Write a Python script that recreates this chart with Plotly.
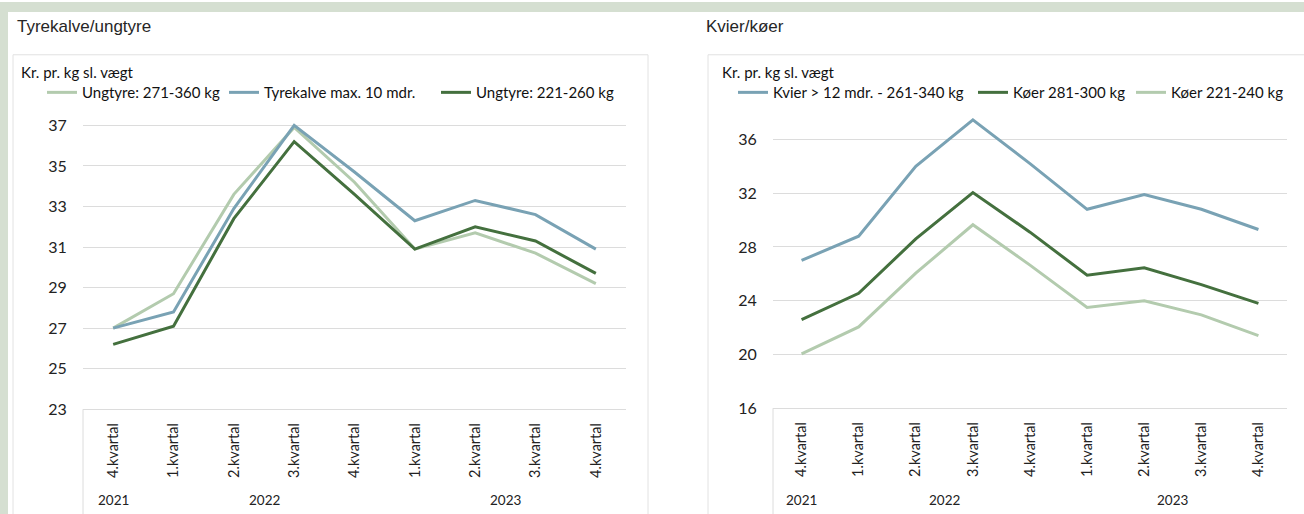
import plotly.graph_objects as go

# ---------------- data ----------------
quarters = ["4.kvartal", "1.kvartal", "2.kvartal", "3.kvartal", "4.kvartal",
            "1.kvartal", "2.kvartal", "3.kvartal", "4.kvartal"]
years = ["2021", "2022", "2022", "2022", "2022", "2023", "2023", "2023", "2023"]

# Tyrekalve/ungtyre
ungtyre_271_360 = [27.0, 28.7, 33.6, 36.9, 34.2, 30.9, 31.7, 30.7, 29.2]
tyrekalve_max10 = [27.0, 27.8, 32.9, 37.0, 34.7, 32.3, 33.3, 32.6, 30.9]
ungtyre_221_260 = [26.2, 27.1, 32.4, 36.2, 33.6, 30.9, 32.0, 31.3, 29.7]

# Kvier/køer
kvier_261_340 = [27.0, 28.8, 34.0, 37.45, 34.2, 30.8, 31.9, 30.8, 29.3]
koer_281_300 = [22.6, 24.55, 28.6, 32.05, 29.1, 25.9, 26.45, 25.2, 23.8]
koer_221_240 = [20.05, 22.05, 26.05, 29.65, 26.65, 23.5, 24.0, 22.95, 21.4]

left_ticks = [23, 25, 27, 29, 31, 33, 35, 37]
right_ticks = [16, 20, 24, 28, 32, 36]

# ---------------- style ----------------
W, H = 1304, 514
K = 1.0175          # vertical correction for the capture
def px(x):
    return x / W
def py(y):
    return 1 - y * K / H

C_LIGHT = "#b3cbae"
C_BLUE = "#79a2b4"
C_DARK = "#44703e"
BG_GREEN = "#d5dfd1"
GRID = "#dcdcdc"
BOX = "#e2e2e2"
FONT = "Lato, Open Sans, sans-serif"
TFONT = "Liberation Sans Narrow, Liberation Sans, Arial, sans-serif"

idx = list(range(len(quarters)))

fig = go.Figure()

left_series = [
    ("Ungtyre: 271-360 kg", ungtyre_271_360, C_LIGHT),
    ("Tyrekalve max. 10 mdr.", tyrekalve_max10, C_BLUE),
    ("Ungtyre: 221-260 kg", ungtyre_221_260, C_DARK),
]
right_series = [
    ("Kvier > 12 mdr. - 261-340 kg", kvier_261_340, C_BLUE),
    ("Køer 281-300 kg", koer_281_300, C_DARK),
    ("Køer 221-240 kg", koer_221_240, C_LIGHT),
]
# left edge (px) of each legend entry
left_leg_x = [42, 224, 436]
right_leg_x = [733, 973, 1131]

legends = {}
n = 1
for (name, vals, col), lx in zip(left_series, left_leg_x):
    key = "legend" if n == 1 else f"legend{n}"
    legends[key] = lx
    fig.add_trace(go.Scatter(x=idx, y=vals, mode="lines", name=name,
                             line=dict(color=col, width=3),
                             xaxis="x", yaxis="y", legend=key))
    n += 1
for (name, vals, col), lx in zip(right_series, right_leg_x):
    key = f"legend{n}"
    legends[key] = lx
    fig.add_trace(go.Scatter(x=idx, y=vals, mode="lines", name=name,
                             line=dict(color=col, width=3),
                             xaxis="x2", yaxis="y2", legend=key))
    n += 1

# axis geometry (pixels)
L_X0, L_X1 = 83, 626
R_X0, R_X1 = 773, 1287
L_YB = 409   # y pixel of value 23
L_UNIT = 20.36
R_YB = 408   # y pixel of value 16
R_UNIT = 13.5
L_RANGE = [23, 37.4]
R_RANGE = [16, 38.0]
L_YT = L_YB - (L_RANGE[1] - L_RANGE[0]) * L_UNIT
R_YT = R_YB - (R_RANGE[1] - R_RANGE[0]) * R_UNIT

xcommon = dict(tickmode="array", tickvals=idx, ticktext=quarters, tickangle=-90,
               range=[-0.5, len(idx) - 0.5], showgrid=False, zeroline=False,
               showline=True, linecolor=GRID, linewidth=1,
               ticks="outside", ticklen=7, tickcolor="rgba(0,0,0,0)",
               tickfont=dict(family=FONT, size=14.5, color="#222222"))
ycommon = dict(showgrid=True, gridcolor=GRID, gridwidth=1, zeroline=False,
               showline=False, ticks="outside", ticklen=12,
               tickcolor="rgba(0,0,0,0)",
               tickfont=dict(family=FONT, size=16, color="#222222"))

layout_legends = {}
for key, lx in legends.items():
    layout_legends[key] = dict(orientation="h", x=px(lx), y=py(91), xanchor="left",
                               yanchor="middle", bgcolor="rgba(0,0,0,0)",
                               font=dict(family=FONT, size=15, color="#111111"),
                               itemwidth=30, tracegroupgap=0)

fig.update_layout(
    width=W, height=H, autosize=False,
    margin=dict(l=0, r=0, t=0, b=0, pad=0),
    paper_bgcolor="white",
    plot_bgcolor="rgba(0,0,0,0)",
    showlegend=True,
    xaxis=dict(domain=[px(L_X0), px(L_X1)], anchor="y", **xcommon),
    yaxis=dict(domain=[py(L_YB), py(L_YT)], anchor="x", range=L_RANGE,
               tickvals=left_ticks, **ycommon),
    xaxis2=dict(domain=[px(R_X0), px(R_X1)], anchor="y2", **xcommon),
    yaxis2=dict(domain=[py(R_YB), py(R_YT)], anchor="x2", range=R_RANGE,
                tickvals=right_ticks, **ycommon),
    **layout_legends,
)

shapes = [
    # green frame: top band and left strip
    dict(type="rect", xref="paper", yref="paper", x0=0, x1=1, y0=py(10), y1=1,
         fillcolor=BG_GREEN, line=dict(width=0), layer="below"),
    dict(type="rect", xref="paper", yref="paper", x0=0, x1=px(8), y0=-0.05, y1=1,
         fillcolor=BG_GREEN, line=dict(width=0), layer="below"),
    # inner chart boxes
    dict(type="rect", xref="paper", yref="paper", x0=px(13), x1=px(648), y0=-0.05, y1=py(53),
         fillcolor="rgba(0,0,0,0)", line=dict(color=BOX, width=1), layer="below"),
    dict(type="rect", xref="paper", yref="paper", x0=px(708), x1=1.02, y0=-0.05, y1=py(53),
         fillcolor="rgba(0,0,0,0)", line=dict(color=BOX, width=1), layer="below"),
    # category-axis left edges
    dict(type="line", xref="paper", yref="paper", x0=px(L_X0), x1=px(L_X0),
         y0=py(L_YB), y1=-0.05, line=dict(color=GRID, width=1)),
    dict(type="line", xref="paper", yref="paper", x0=px(R_X0), x1=px(R_X0),
         y0=py(R_YB), y1=-0.05, line=dict(color=GRID, width=1)),
]
fig.update_layout(shapes=shapes)

ann = []
ann.append(dict(text="Tyrekalve/ungtyre", x=px(15), y=py(25), xref="paper", yref="paper",
                xanchor="left", yanchor="middle", showarrow=False,
                font=dict(family=TFONT, size=17, color="#262626")))
ann.append(dict(text="Kvier/køer", x=px(704), y=py(25), xref="paper", yref="paper",
                xanchor="left", yanchor="middle", showarrow=False,
                font=dict(family=TFONT, size=17, color="#262626")))
for xx in (19, 720):
    ann.append(dict(text="Kr. pr. kg sl. vægt", x=px(xx), y=py(70), xref="paper", yref="paper",
                    xanchor="left", yanchor="middle", showarrow=False,
                    font=dict(family=FONT, size=15, color="#111111")))

# year group labels centred under their quarters
groups = []
for i, yv in enumerate(years):
    if not groups or groups[-1][0] != yv:
        groups.append([yv, []])
    groups[-1][1].append(i)
for xr in ("x", "x2"):
    for yv, members in groups:
        ann.append(dict(text=yv, x=sum(members) / len(members), y=py(500),
                        xref=xr, yref="paper", xanchor="center", yanchor="middle",
                        showarrow=False,
                        font=dict(family=FONT, size=13.5, color="#222222")))
fig.update_layout(annotations=ann)

fig.write_html(
    "out.html",
    config={"displayModeBar": False, "responsive": False},
    post_script=(
        "var gd=document.getElementById('{plot_id}');"
        "document.documentElement.style.margin='0';"
        "document.body.style.margin='0';"
        "document.body.style.overflow='hidden';"
        "document.documentElement.style.overflow='hidden';"
        "gd.style.position='fixed';gd.style.left='0px';gd.style.top='0px';"
    ),
)
